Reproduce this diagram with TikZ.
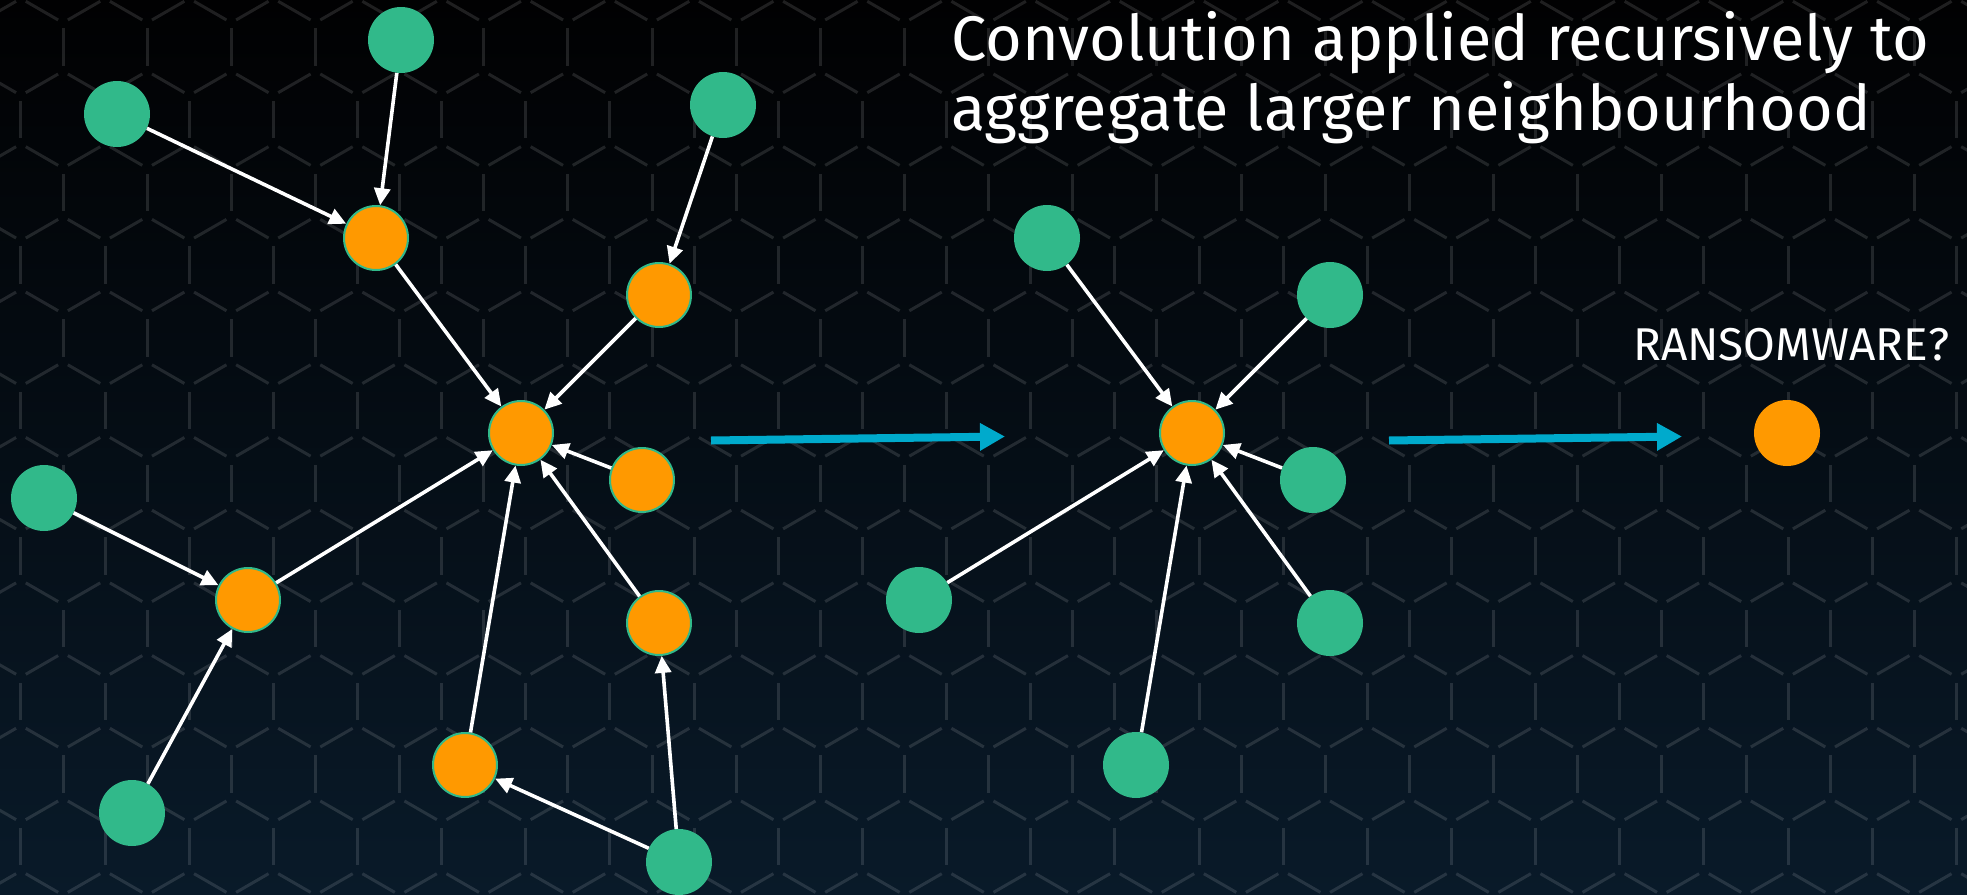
\documentclass[tikz,border=0pt]{standalone}
\usepackage{fontspec}
\setmainfont{Fira Sans}
\usetikzlibrary{arrows.meta}
\definecolor{gnodecol}{RGB}{49,185,138}
\definecolor{onodecol}{RGB}{255,153,0}
\definecolor{bluearr}{RGB}{0,170,204}
\definecolor{bgtop}{RGB}{1,1,2}
\definecolor{bgmid}{RGB}{7,11,15}
\definecolor{bgbot}{RGB}{9,26,41}
\begin{document}
\begin{tikzpicture}[x=1pt,y=-1pt,
  gnode/.style={circle,fill=gnodecol,minimum size=66pt,inner sep=0pt},
  onode/.style={circle,fill=onodecol,draw=gnodecol,line width=2pt,minimum size=64pt,inner sep=0pt},
  rnode/.style={circle,fill=onodecol,minimum size=66pt,inner sep=0pt},
  edge/.style={draw=white,line width=3.6pt,-{Triangle[length=17pt,width=16pt]}},
  flow/.style={draw=bluearr,line width=8pt,-{Triangle[length=25pt,width=26pt]}},
  hexline/.style={white,opacity=0.12,line width=3pt},
  txt/.style={text=white,inner sep=0pt}
]
\useasboundingbox (0,0) rectangle (1967,894);
\shade[top color=bgtop, middle color=bgmid, bottom color=bgbot] (0,0) rectangle (1967,894);
\begin{scope}
\clip (0,0) rectangle (1967,894);
\foreach \j in {-1,...,12}{
  \foreach \k in {-1,...,24}{
    \pgfmathsetmacro{\xv}{63-42.075*mod(\j+2,2)+84.15*\k}
    \pgfmathsetmacro{\yv}{47+72.7*\j}
    \draw[hexline] (\xv,\yv-18.7) -- (\xv,\yv+18.7);
    \draw[hexline] (\xv-4.84,\yv-27.04) -- (\xv-37.24,\yv-45.71);
    \draw[hexline] (\xv+4.84,\yv-27.04) -- (\xv+37.24,\yv-45.71);
  }
}
\end{scope}
% left graph
\node[gnode] (g1) at (401,40) {};
\node[gnode] (g2) at (117,114) {};
\node[gnode] (g3) at (723,105) {};
\node[gnode] (g4) at (44,498) {};
\node[gnode] (g5) at (132,813) {};
\node[gnode] (g6) at (679,862) {};
\node[onode] (o1) at (376,238) {};
\node[onode] (o2) at (659,295) {};
\node[onode] (o3) at (521,433) {};
\node[onode] (o4) at (642,480) {};
\node[onode] (o5) at (248,600) {};
\node[onode] (o6) at (659,623) {};
\node[onode] (o7) at (465,765) {};
\draw[edge] (g1) -- (o1);
\draw[edge] (g2) -- (o1);
\draw[edge] (g3) -- (o2);
\draw[edge] (o1) -- (o3);
\draw[edge] (o2) -- (o3);
\draw[edge] (o4) -- (o3);
\draw[edge] (o5) -- (o3);
\draw[edge] (o6) -- (o3);
\draw[edge] (o7) -- (o3);
\draw[edge] (g4) -- (o5);
\draw[edge] (g5) -- (o5);
\draw[edge] (g6) -- (o7);
\draw[edge] (g6) -- (o6);
% middle graph
\node[onode] (c) at (1192,433) {};
\node[gnode] (m1) at (1047,238) {};
\node[gnode] (m2) at (1330,295) {};
\node[gnode] (m3) at (1313,480) {};
\node[gnode] (m4) at (919,600) {};
\node[gnode] (m5) at (1330,623) {};
\node[gnode] (m6) at (1136,765) {};
\foreach \m in {m1,m2,m3,m4,m5,m6}{\draw[edge] (\m) -- (c);}
% result
\node[rnode] (r) at (1787,433) {};
% flow arrows
\coordinate (a1s) at (711,440.5);
\coordinate (a1e) at (1005,436.5);
\coordinate (a2s) at (1389,440.5);
\coordinate (a2e) at (1682,436.5);
\draw[flow] (a1s) -- (a1e);
\draw[flow] (a2s) -- (a2e);
% texts
\node[txt,anchor=base west,font=\fontsize{63}{66}\selectfont] (t1) at (951,60) {Convolution applied recursively to};
\node[txt,anchor=base west,font=\fontsize{63}{66}\selectfont] (t2) at (951,130) {aggregate larger neighbourhood};
\node[txt,anchor=base west,font=\fontsize{46}{48}\selectfont] (q) at (1633,360) {RANSOMWARE?};
\end{tikzpicture}
\end{document}
